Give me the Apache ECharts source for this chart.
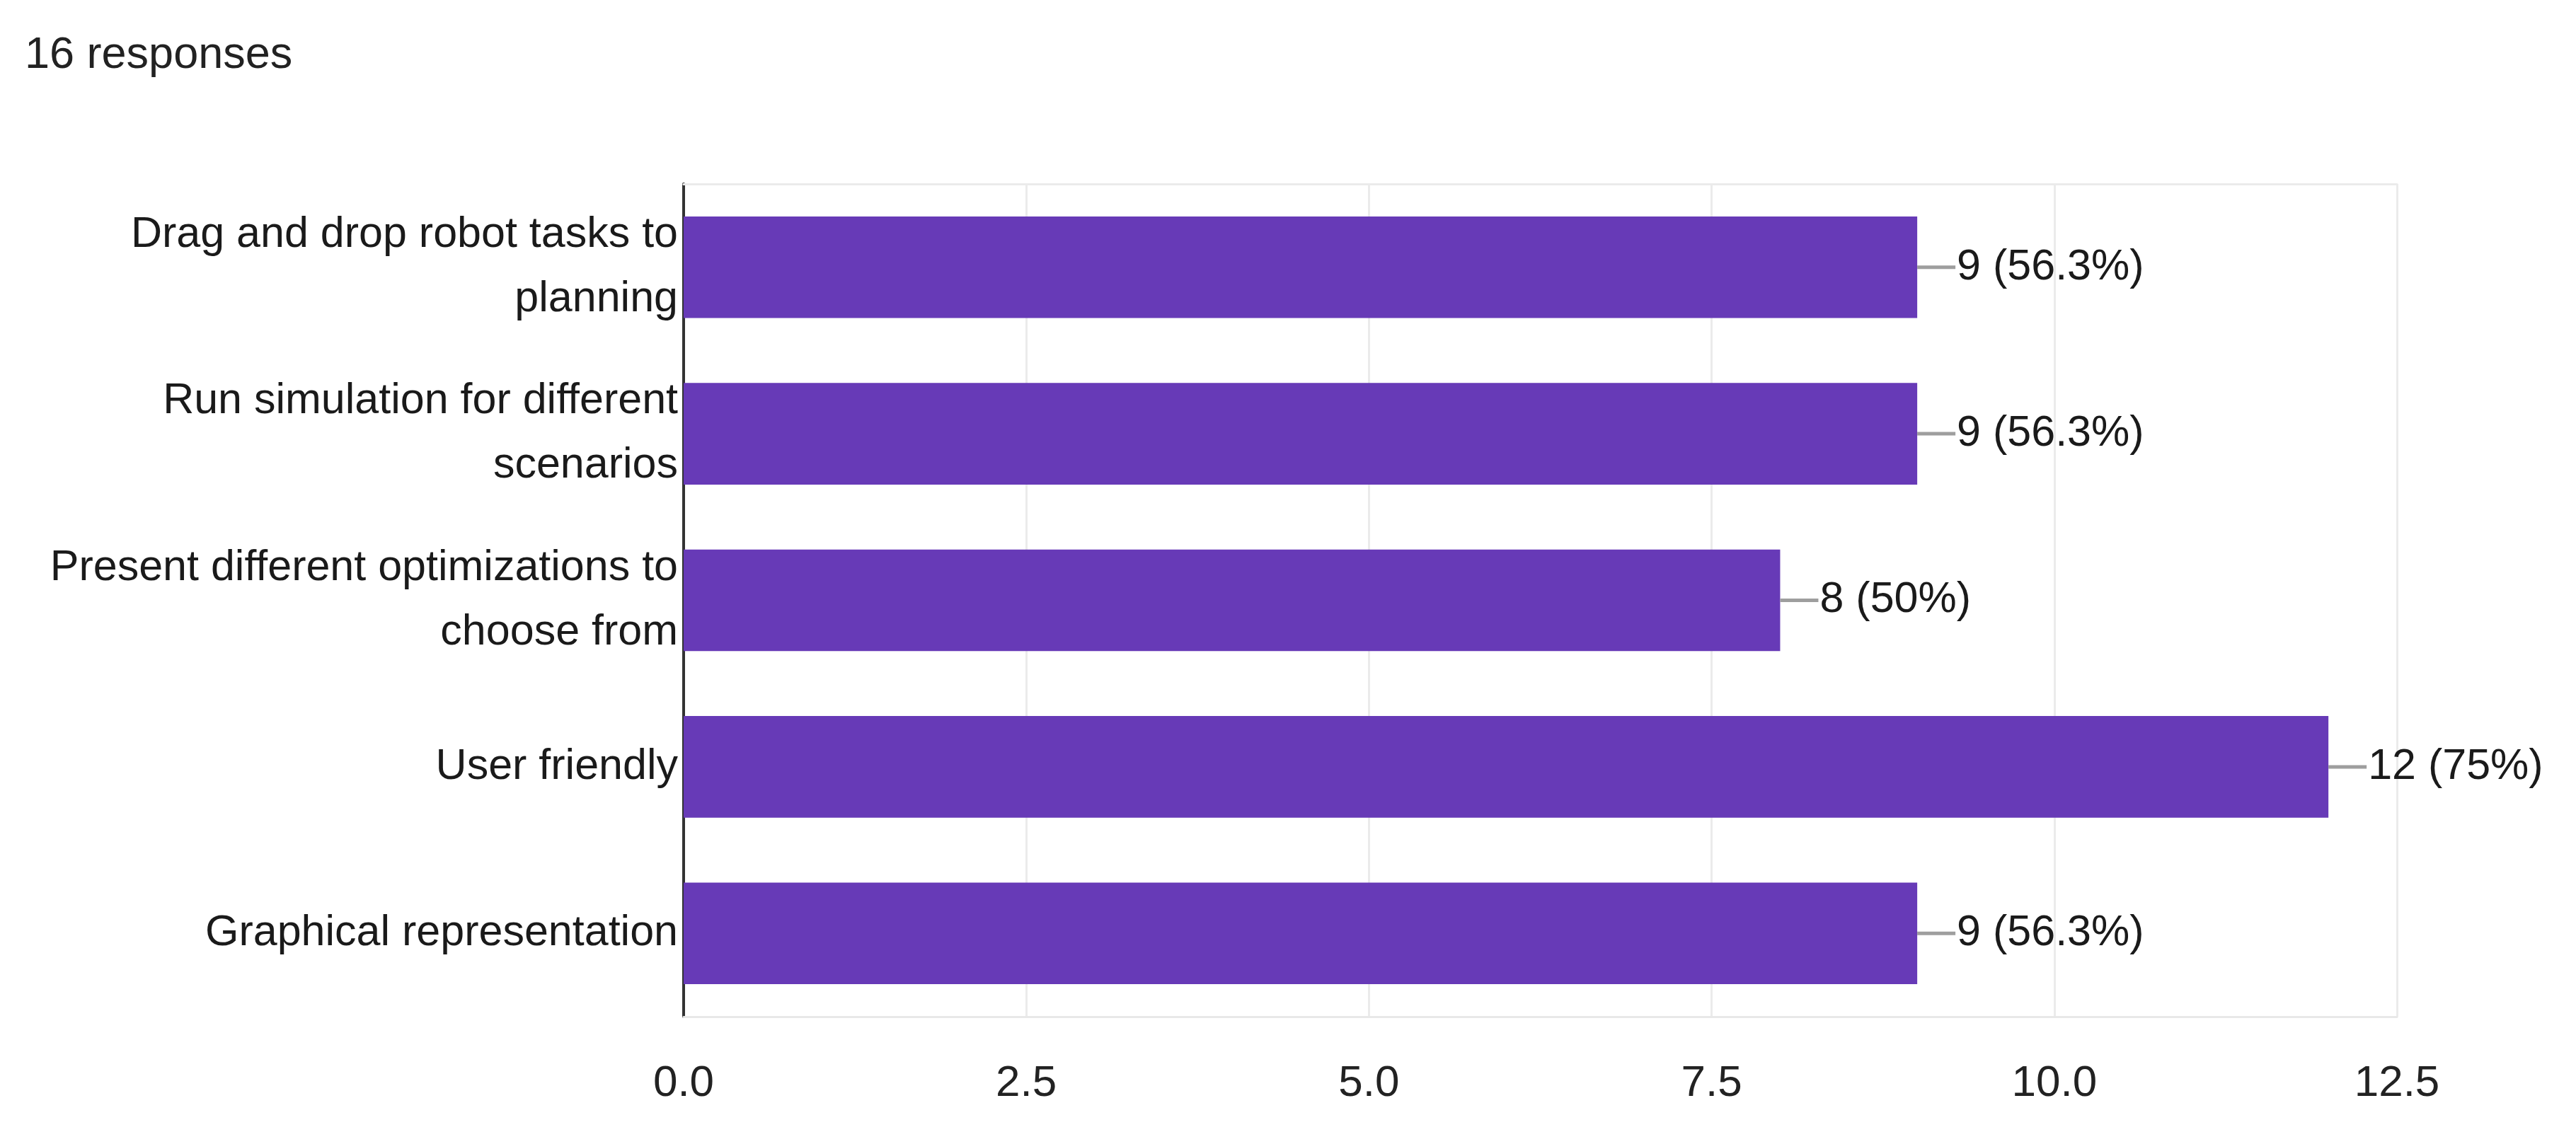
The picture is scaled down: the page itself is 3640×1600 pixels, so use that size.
<!DOCTYPE html>
<html><head><meta charset="utf-8">
<script src="https://cdn.jsdelivr.net/npm/echarts@6/dist/echarts.min.js"></script>
<style>html,body{margin:0;padding:0;background:#fff}#c{width:3640px;height:1600px}</style>
</head><body><div id="c"></div>
<script>
const titleText = "16 responses";
const categories = [
  "Drag and drop robot tasks to\nplanning",
  "Run simulation for different\nscenarios",
  "Present different optimizations to\nchoose from",
  "User friendly",
  "Graphical representation"
];
const counts = [9, 9, 8, 12, 9];
const percents = ["56.3%", "56.3%", "50%", "75%", "56.3%"];
const xTicks = [0, 2.5, 5, 7.5, 10, 12.5];

const FONT = "'Liberation Sans', Arial, sans-serif";
const chart = echarts.init(document.getElementById('c'));
chart.setOption({
  animation: false,
  backgroundColor: '#fff',
  title: {
    text: titleText, left: 30, top: 42,
    textStyle: {fontFamily: FONT, fontSize: 63, fontWeight: 'normal', color: '#222'}
  },
  grid: {left: 966, right: 253, top: 260, bottom: 163, containLabel: false},
  xAxis: [{
    type: 'value', min: xTicks[0], max: xTicks[xTicks.length - 1], interval: 2.5,
    axisLine: {show: true, lineStyle: {color: '#e8e8e8', width: 3}},
    axisTick: {show: false},
    splitLine: {show: true, lineStyle: {color: '#ebebeb', width: 3}},
    axisLabel: {
      margin: 64, fontFamily: FONT, fontSize: 62, color: '#222',
      formatter: v => v.toFixed(1)
    }
  }, {
    type: 'value', position: 'top', min: xTicks[0], max: xTicks[xTicks.length - 1], interval: 2.5,
    axisLine: {show: true, lineStyle: {color: '#ebebeb', width: 3}},
    axisTick: {show: false}, axisLabel: {show: false}, splitLine: {show: false}
  }],
  yAxis: {
    type: 'category', inverse: true, data: categories,
    axisLine: {show: true, onZero: false, lineStyle: {color: '#333', width: 4}},
    axisTick: {show: false},
    axisLabel: {
      margin: 8, fontFamily: FONT, fontSize: 61, color: '#1a1a1a',
      lineHeight: 91, align: 'right'
    }
  },
  series: [{
    type: 'bar', xAxisIndex: 0,
    data: counts,
    barWidth: '61%',
    itemStyle: {color: '#673ab7'},
    label: {
      show: true, position: 'right', distance: 0,
      formatter: p => '{ln|}{t|' + counts[p.dataIndex] + ' (' + percents[p.dataIndex] + ')}',
      rich: {
        ln: {width: 54, height: 5, backgroundColor: '#9e9e9e'},
        t: {fontFamily: FONT, fontSize: 61, color: '#1a1a1a', padding: [0, 0, 0, 2]}
      }
    }
  }]
});
</script></body></html>
